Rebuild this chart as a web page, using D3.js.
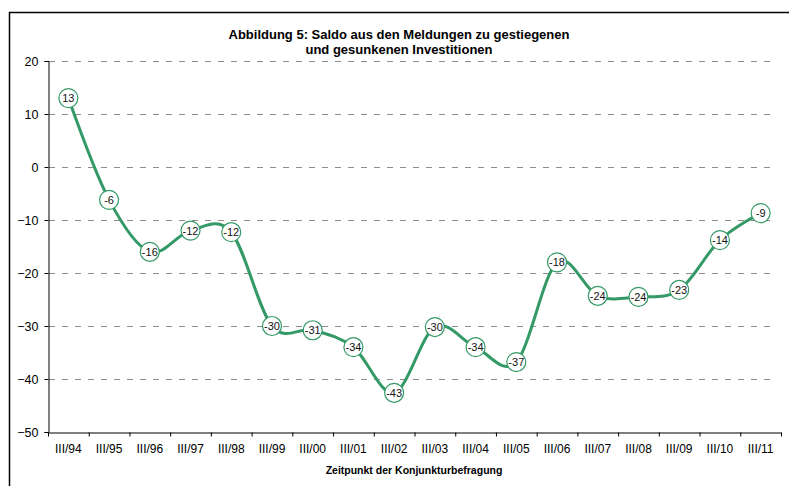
<!DOCTYPE html>
<html>
<head>
<meta charset="utf-8">
<script src="https://cdn.jsdelivr.net/npm/d3@7"></script>
<style>
  body { margin: 0; background: #fff; }
  text { font-family: "Liberation Sans", Arial, sans-serif; }
</style>
</head>
<body>
<script>
// Saldo aus den Meldungen zu gestiegenen und gesunkenen Investitionen
const categories = ['III/94', 'III/95', 'III/96', 'III/97', 'III/98', 'III/99', 'III/00', 'III/01', 'III/02',
    'III/03', 'III/04', 'III/05', 'III/06', 'III/07', 'III/08', 'III/09', 'III/10', 'III/11'];
const values = [13, -6.2, -16, -12, -12.3, -30, -30.8, -34, -42.6, -30.2, -34, -36.8, -18, -24.3, -24.5, -23.2, -13.8, -8.7];
const labels = ['13', '-6', '-16', '-12', '-12', '-30', '-31', '-34', '-43', '-30', '-34', '-37', '-18', '-24', '-24', '-23', '-14', '-9'];
const yTicks = [-50, -40, -30, -20, -10, 0, 10, 20];

const width = 789;
const height = 486;
const margin = {top: 61, right: 8, bottom: 54, left: 48};
const green = '#339966';

const svg = d3.select('body').append('svg')
    .attr('width', width)
    .attr('height', height);

// outer frame (right and bottom edges run off the picture)
svg.append('rect')
    .attr('x', 9.5).attr('y', 12.5)
    .attr('width', 800).attr('height', 500)
    .attr('fill', 'none')
    .attr('stroke', '#000')
    .attr('stroke-width', 1.5);

const xScale = d3.scaleBand()
    .domain(categories)
    .range([margin.left, width - margin.right]);

const yScale = d3.scaleLinear()
    .domain([-50, 20])
    .range([height - margin.bottom, margin.top]);

// dashed gridlines
svg.append('g')
    .selectAll('line')
    .data(yTicks.filter(d => d !== -50))
    .enter().append('line')
    .attr('x1', margin.left + 1)
    .attr('x2', width - margin.right - 5)
    .attr('y1', d => yScale(d) + 0.5)
    .attr('y2', d => yScale(d) + 0.5)
    .attr('stroke', '#8c8c8c')
    .attr('stroke-width', 1)
    .attr('stroke-dasharray', '6,7');

// Y axis
const yAxis = svg.append('g')
    .attr('transform', 'translate(' + (margin.left + 0.5) + ',0)')
    .call(d3.axisLeft(yScale).tickValues(yTicks).tickSize(4).tickPadding(6));
yAxis.select('.domain').attr('stroke', '#000');
yAxis.selectAll('text').style('font-size', '12.5px').attr('fill', '#000')
    .style('font-family', '"Liberation Sans", Arial, sans-serif');

// X axis
const xAxis = svg.append('g')
    .attr('transform', 'translate(0,' + (yScale(-50) + 0.5) + ')')
    .call(d3.axisBottom(xScale).tickSize(0).tickPadding(12));
xAxis.select('.domain').attr('stroke', '#555').attr('stroke-width', 1.5);
xAxis.selectAll('text').style('font-size', '12px').attr('fill', '#000')
    .style('font-family', '"Liberation Sans", Arial, sans-serif');
xAxis.selectAll('.sep')
    .data(categories.concat(['end']))
    .enter().append('line')
    .attr('x1', (d, i) => margin.left + i * xScale.bandwidth() + 0.5)
    .attr('x2', (d, i) => margin.left + i * xScale.bandwidth() + 0.5)
    .attr('y1', 0).attr('y2', 4)
    .attr('stroke', '#000');

// Line
const cx = (d, i) => xScale(categories[i]) + xScale.bandwidth() / 2;
svg.append('path')
    .datum(values)
    .attr('fill', 'none')
    .attr('stroke', green)
    .attr('stroke-width', 3)
    .attr('d', d3.line()
        .x(cx)
        .y(d => yScale(d))
        .curve(d3.curveCardinal.tension(0))
    );

// Markers with labels
const points = svg.append('g')
    .selectAll('g')
    .data(values)
    .enter().append('g')
    .attr('transform', (d, i) => 'translate(' + cx(d, i) + ',' + yScale(d) + ')');

points.append('circle')
    .attr('r', 9.5)
    .attr('fill', '#fff')
    .attr('stroke', green)
    .attr('stroke-width', 1.2);

points.append('text')
    .attr('text-anchor', 'middle')
    .attr('dy', '0.36em')
    .style('font-size', '11px')
    .attr('fill', '#111')
    .text((d, i) => labels[i]);

// Title
const title = svg.append('text')
    .attr('text-anchor', 'middle')
    .style('font-size', '13px')
    .style('font-weight', 'bold');
title.append('tspan').attr('x', 399).attr('y', 39)
    .text('Abbildung 5: Saldo aus den Meldungen zu gestiegenen');
title.append('tspan').attr('x', 399).attr('y', 54)
    .text('und gesunkenen Investitionen');

// X axis title
svg.append('text')
    .attr('x', 414)
    .attr('y', 474)
    .attr('text-anchor', 'middle')
    .style('font-size', '10.5px')
    .style('font-weight', 'bold')
    .text('Zeitpunkt der Konjunkturbefragung');
</script>
</body>
</html>
